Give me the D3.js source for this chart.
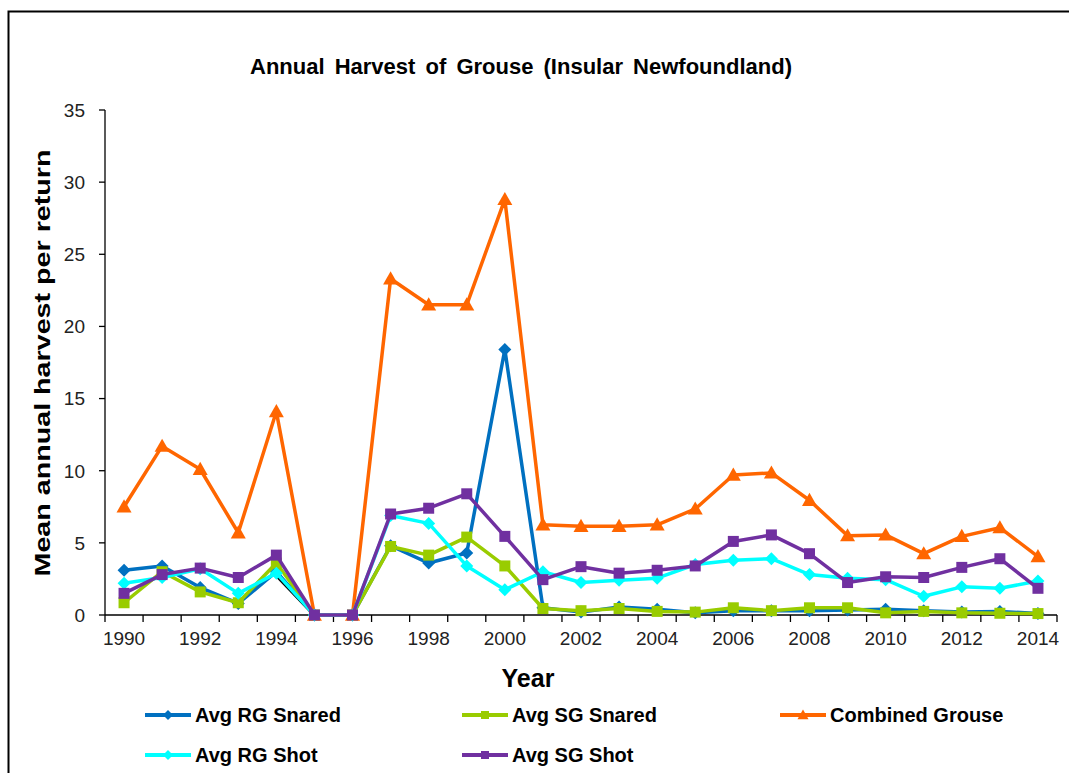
<!DOCTYPE html>
<html>
<head>
<meta charset="utf-8">
<script src="https://cdn.jsdelivr.net/npm/d3@7"></script>
<style>
  body { margin: 0; background: #fff; }
  text { font-family: "Liberation Sans", Arial, sans-serif; }
</style>
</head>
<body>
<div id="chart"></div>
<script>
const years = [1990, 1991, 1992, 1993, 1994, 1995, 1996, 1997, 1998, 1999, 2000, 2001, 2002,
  2003, 2004, 2005, 2006, 2007, 2008, 2009, 2010, 2011, 2012, 2013, 2014];
const yearLabels = [1990, 1992, 1994, 1996, 1998, 2000, 2002, 2004, 2006, 2008, 2010, 2012, 2014];
const yTicks = [0, 5, 10, 15, 20, 25, 30, 35];

const rgSnared = [3.1, 3.4, 1.9, 0.8, 3.0, 0, 0, 4.8, 3.6, 4.3, 18.4, 0.5, 0.2, 0.55, 0.4, 0.15,
  0.3, 0.3, 0.3, 0.35, 0.4, 0.3, 0.2, 0.25, 0.1];
const sgSnared = [0.85, 3.0, 1.6, 0.85, 3.6, 0, 0, 4.75, 4.15, 5.4, 3.4, 0.45, 0.3, 0.45, 0.25, 0.2,
  0.5, 0.3, 0.5, 0.5, 0.15, 0.25, 0.15, 0.12, 0.1];
const combined = [7.5, 11.7, 10.1, 5.7, 14.1, 0, 0, 23.3, 21.5, 21.5, 28.8, 6.25, 6.15, 6.15, 6.25, 7.35,
  9.7, 9.85, 7.95, 5.5, 5.55, 4.25, 5.45, 6.05, 4.05];
const rgShot = [2.2, 2.6, 3.2, 1.5, 2.9, 0, 0, 6.9, 6.35, 3.4, 1.75, 3.0, 2.25, 2.4, 2.55, 3.5,
  3.8, 3.9, 2.8, 2.55, 2.45, 1.3, 1.95, 1.85, 2.35];
const sgShot = [1.5, 2.8, 3.25, 2.6, 4.15, 0, 0, 7.0, 7.4, 8.4, 5.45, 2.45, 3.35, 2.9, 3.1, 3.4,
  5.1, 5.55, 4.25, 2.25, 2.65, 2.6, 3.3, 3.9, 1.85];
// stray unlabelled series, only visible between 1994 and 1995
const unlabelled = [null, null, null, null, 2.75, 0, null, null, null, null, null, null, null,
  null, null, null, null, null, null, null, null, null, null, null, null];

const seriesNames = ["Avg RG Snared", "Avg SG Snared", "Combined Grouse", "Avg RG Shot", "Avg SG Shot"];

const width = 1069;
const height = 773;
const margin = { top: 110, left: 105, bottom: 158, right: 12 };

const svg = d3.select("#chart").append("svg")
  .attr("width", width).attr("height", height);

// outer frame
svg.append("rect")
  .attr("x", 8.5).attr("y", 11.5)
  .attr("width", 1080).attr("height", 780)
  .attr("fill", "none").attr("stroke", "#000").attr("stroke-width", 2);

const x = d3.scaleBand().domain(years).range([margin.left, width - margin.right]);
const cx = (d) => x(d) + x.bandwidth() / 2;
const y = d3.scaleLinear().domain([0, 35]).range([height - margin.bottom, margin.top]);

const diamond = (r) => `M0,${-r}L${r},0L0,${r}L${-r},0Z`;
const square = (r) => `M${-r},${-r}H${r}V${r}H${-r}Z`;
const triangle = (r) => `M0,${-r}L${r},${r * 0.75}L${-r},${r * 0.75}Z`;

const series = [
  { name: seriesNames[0], values: rgSnared, color: "#0070C0", shape: diamond, r: 6.5, lr: 5 },
  { name: seriesNames[1], values: sgSnared, color: "#99CC00", shape: square, r: 5.5, lr: 4 },
  { name: seriesNames[2], values: combined, color: "#FF6600", shape: triangle, r: 7.5, lr: 5.5 },
  { name: seriesNames[3], values: rgShot, color: "#00FFFF", shape: diamond, r: 6.5, lr: 5 },
  { name: seriesNames[4], values: sgShot, color: "#7030A0", shape: square, r: 5.5, lr: 4 },
];

// axes
const axisG = svg.append("g").attr("stroke", "#000").attr("stroke-width", 1.3);
axisG.append("line")
  .attr("x1", margin.left).attr("x2", margin.left)
  .attr("y1", y(35)).attr("y2", y(0));
axisG.append("line")
  .attr("x1", margin.left).attr("x2", width - margin.right)
  .attr("y1", y(0)).attr("y2", y(0));
axisG.selectAll(".ytick").data(yTicks).enter().append("line")
  .attr("x1", margin.left - 6).attr("x2", margin.left)
  .attr("y1", (d) => y(d)).attr("y2", (d) => y(d));
axisG.selectAll(".xtick").data(years.concat(["end"])).enter().append("line")
  .attr("x1", (d) => (d === "end" ? width - margin.right : x(d)))
  .attr("x2", (d) => (d === "end" ? width - margin.right : x(d)))
  .attr("y1", y(0)).attr("y2", y(0) + 7);

svg.selectAll(".ylab").data(yTicks).enter().append("text")
  .attr("x", margin.left - 20).attr("y", (d) => y(d)).attr("dy", "0.36em")
  .attr("text-anchor", "end").attr("font-size", 19).attr("fill", "#222")
  .text((d) => d);

svg.selectAll(".xlab").data(yearLabels).enter().append("text")
  .attr("x", (d) => cx(d)).attr("y", y(0) + 30)
  .attr("text-anchor", "middle").attr("font-size", 19).attr("fill", "#222")
  .text((d) => d);

// lines
const line = d3.line()
  .defined((d) => d != null)
  .x((d, i) => cx(years[i]))
  .y((d) => y(d));

svg.append("path")
  .datum(unlabelled)
  .attr("d", line)
  .attr("fill", "none").attr("stroke", "#000").attr("stroke-width", 3.5);

series.forEach((s) => {
  const g = svg.append("g");
  g.append("path")
    .datum(s.values)
    .attr("d", line)
    .attr("fill", "none").attr("stroke", s.color)
    .attr("stroke-width", 3.5).attr("stroke-linejoin", "round");
  g.selectAll("path.m").data(s.values).enter().append("path")
    .attr("class", "m")
    .attr("d", s.shape(s.r))
    .attr("transform", (d, i) => `translate(${cx(years[i])},${y(d)})`)
    .attr("fill", s.color);
});

// titles
svg.append("text")
  .attr("x", 521).attr("y", 74)
  .attr("text-anchor", "middle").attr("font-size", 22).attr("font-weight", "bold")
  .attr("word-spacing", 4)
  .text("Annual Harvest of Grouse (Insular Newfoundland)");

svg.append("text")
  .attr("transform", "translate(42,363) rotate(-90)")
  .attr("dy", "0.35em")
  .attr("text-anchor", "middle").attr("font-size", 22).attr("font-weight", "bold")
  .attr("textLength", 427).attr("lengthAdjust", "spacingAndGlyphs")
  .text("Mean annual harvest per return");

svg.append("text")
  .attr("x", 528).attr("y", 687)
  .attr("text-anchor", "middle").attr("font-size", 25).attr("font-weight", "bold")
  .text("Year");

// legend
const legendPos = [[145, 715], [462, 715], [780, 715], [145, 755], [462, 755]];
series.forEach((s, i) => {
  const [lx, ly] = legendPos[i];
  const g = svg.append("g").attr("transform", `translate(${lx},${ly})`);
  g.append("line").attr("x1", 0).attr("x2", 46).attr("y1", 0).attr("y2", 0)
    .attr("stroke", s.color).attr("stroke-width", 4);
  g.append("path").attr("d", s.shape(s.lr)).attr("transform", "translate(23,0)")
    .attr("fill", s.color);
  g.append("text").attr("x", 50).attr("y", 0).attr("dy", "0.36em")
    .attr("font-size", 20).attr("font-weight", "bold")
    .text(s.name);
});
</script>
</body>
</html>
